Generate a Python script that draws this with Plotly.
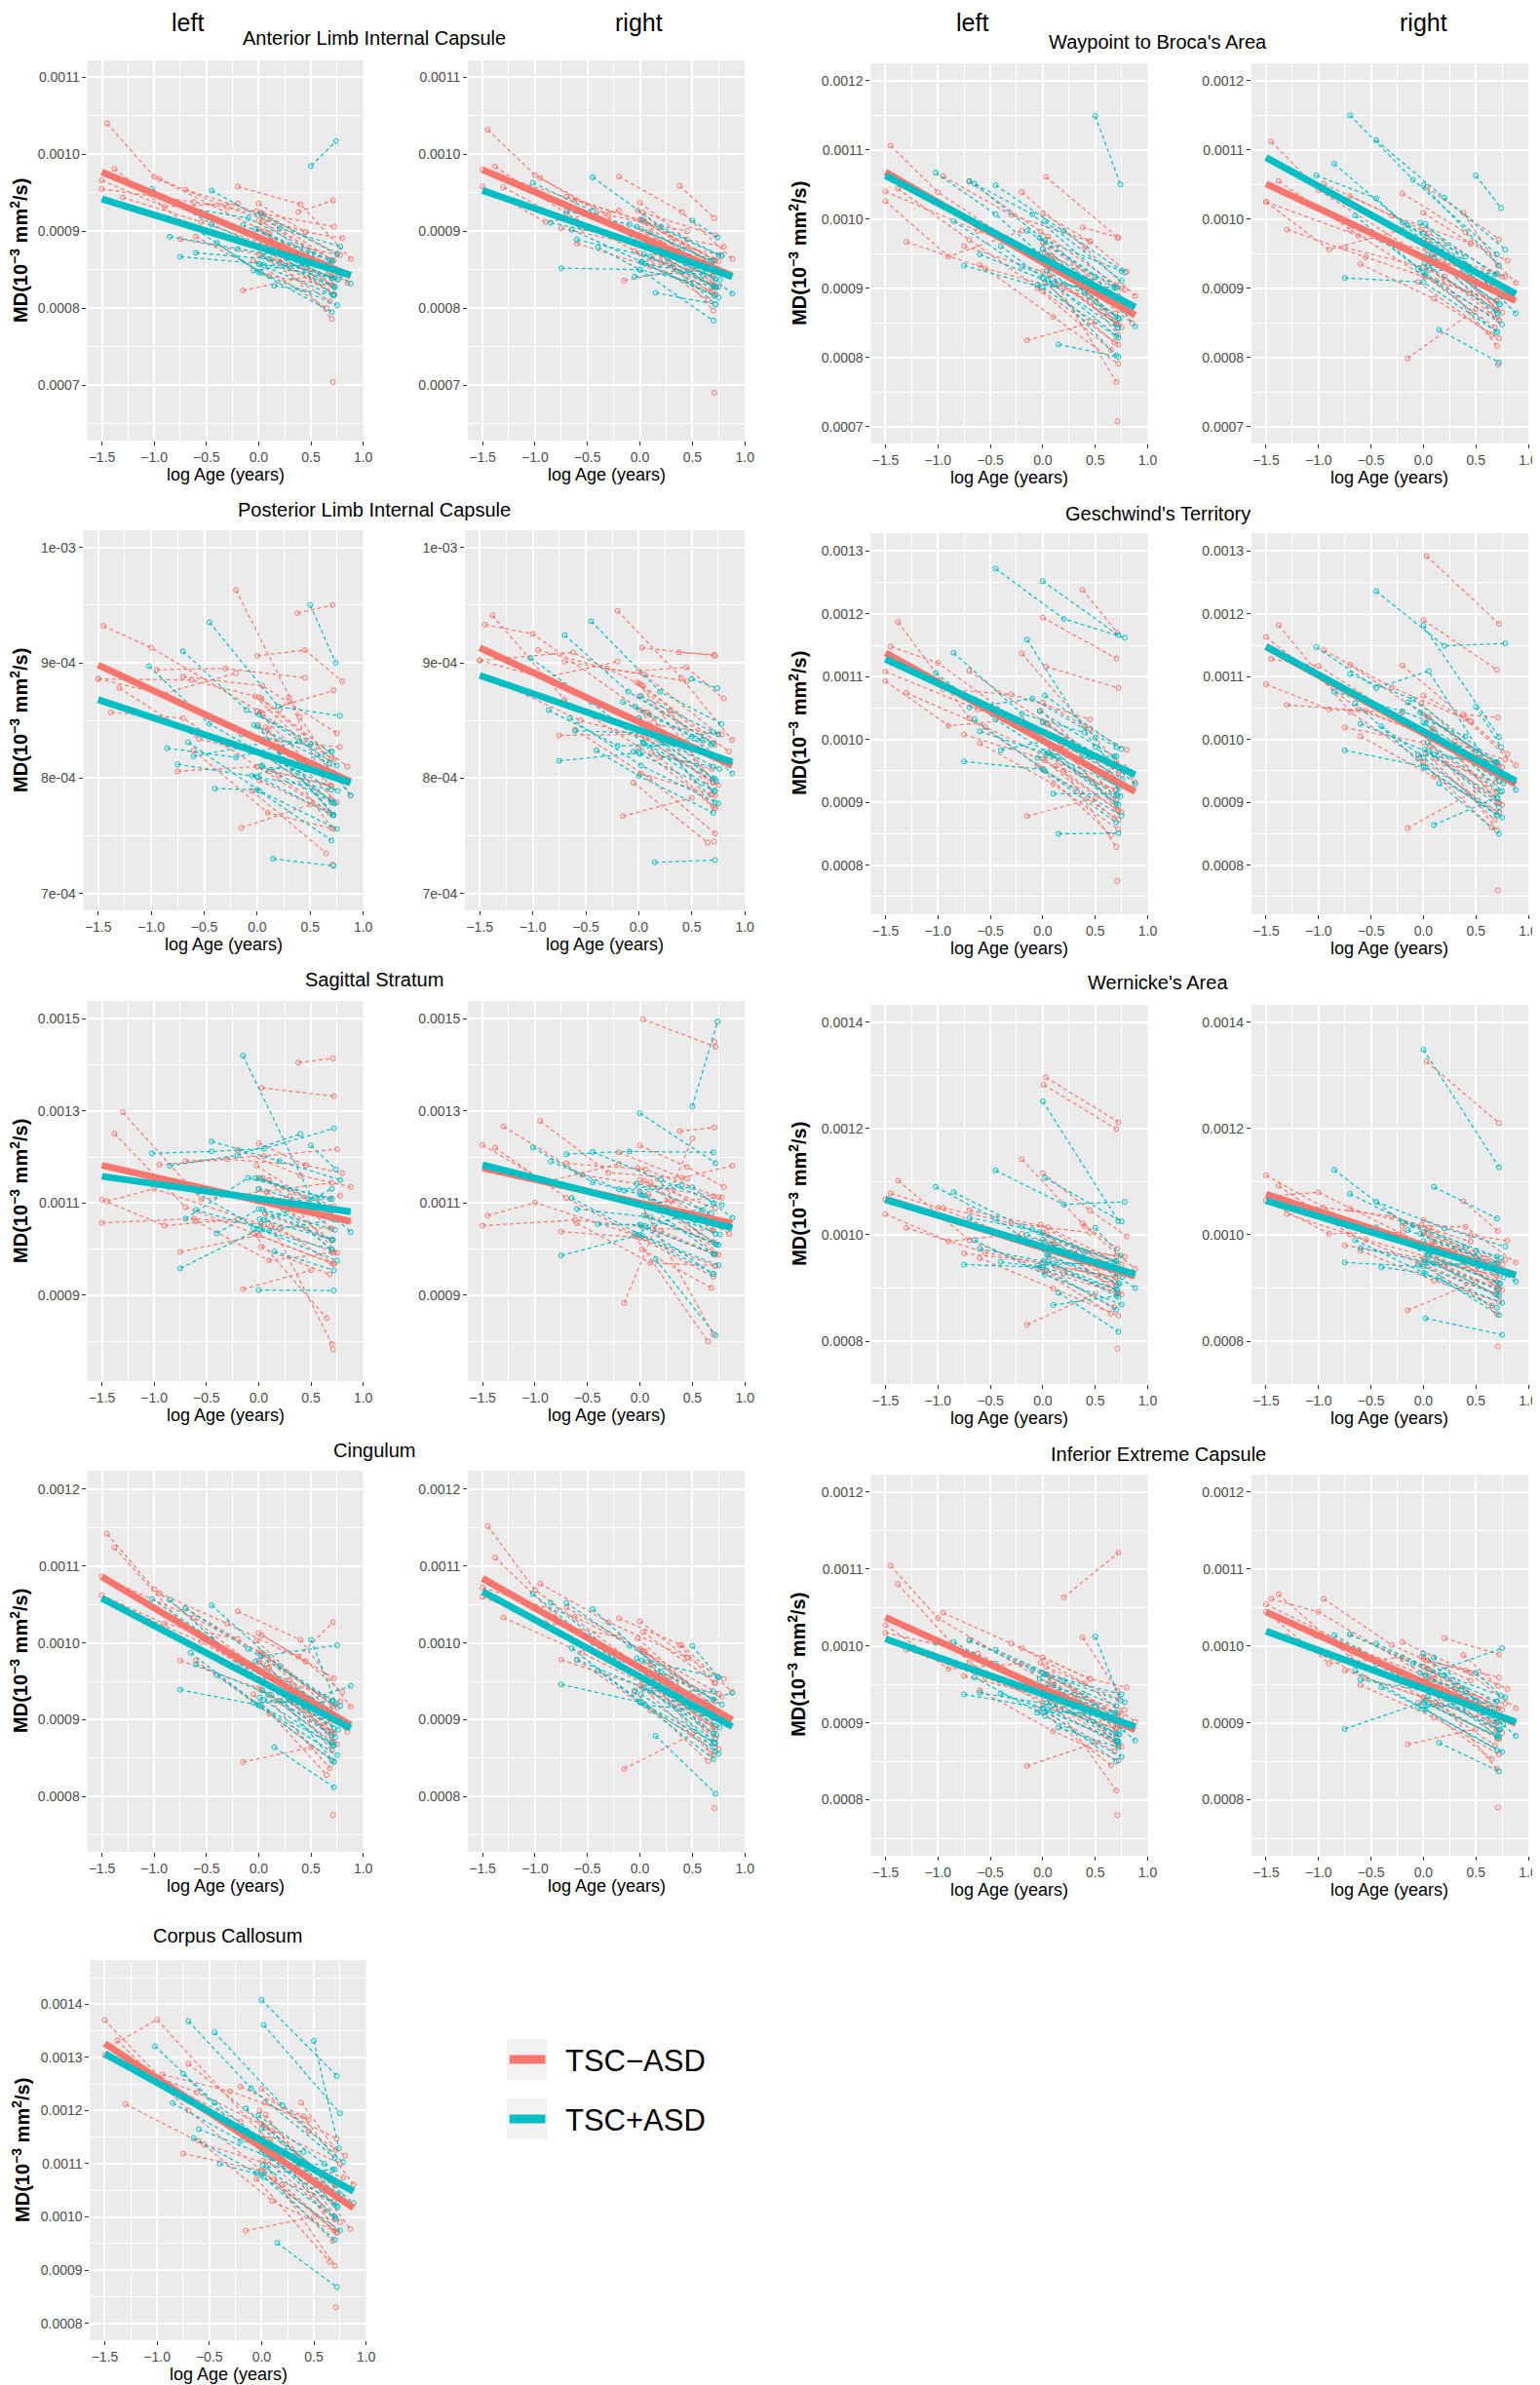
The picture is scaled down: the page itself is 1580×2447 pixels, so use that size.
import plotly.graph_objects as go

W, H = 1580, 2447
RED, CYAN = "#F8766D", "#00BFC4"
FONT = "Liberation Sans, Arial, sans-serif"

# log age (years) of every scan, one list per subject; the same subjects in every tract
ages_neg = [[-1.50, -0.62, 0.02, 0.70], [-1.45, -1.00, 0.05], [-1.38, -0.70, 0.00, 0.72],
            [-1.30, -0.55, 0.70], [-1.50, -0.90, -0.20], [-0.95, -0.30, 0.45],
            [-0.75, 0.00, 0.70], [-0.70, 0.05, 0.75], [-0.60, 0.10, 0.72],
            [-0.20, 0.40, 0.88], [-0.15, 0.50], [0.00, 0.70], [0.02, 0.68], [0.03, 0.72],
            [0.05, 0.30, 0.70], [0.10, 0.75], [-0.05, 0.65], [0.00, 0.45, 0.80],
            [0.20, 0.72], [0.01, 0.70], [0.04, 0.85], [0.38, 0.71], [0.71],
            [0.00, 0.72], [0.06, 0.70], [-0.02, 0.74], [0.12, 0.69], [0.03, 0.78], [0.08, 0.72]]
ages_pos = [[-1.02, -0.45, 0.05, 0.72], [-0.85, -0.20, 0.40], [-0.75, 0.00, 0.70],
            [-0.70, -0.10, 0.70], [-0.65, 0.02, 0.75], [-0.60, 0.10, 0.72],
            [-0.45, 0.20, 0.78], [-0.40, 0.00, 0.70], [-0.15, 0.50, 0.88],
            [-0.05, 0.70], [0.00, 0.72], [0.02, 0.75], [0.05, 0.60], [0.10, 0.70],
            [0.15, 0.72], [0.50, 0.74],
            [0.00, 0.70], [0.04, 0.73], [-0.03, 0.68], [0.08, 0.76], [0.01, 0.71]]

# MD in 10^-6 mm^2/s, one list per subject (same order as the age lists)
alic_left_neg = [[955, 938, 924, 863], [1040, 971, 900], [981, 910, 881, 818], [944, 912, 852], [966, 932, 936], [968, 931, 899], [890, 870, 841], [954, 922, 871], [893, 842, 829], [958, 935, 864], [823, 842], [903, 830], [869, 809], [923, 906], [878, 875, 830], [897, 838], [862, 800], [936, 899, 891], [859, 818], [891, 786], [912, 833], [925, 940], [704],
                 [914, 862], [878, 830], [926, 850], [863, 842], [890, 869], [898, 818]]
alic_left_pos = [[955, 909, 878, 828], [893, 877, 863], [867, 858, 839], [931, 917, 861], [907, 846, 804], [872, 864, 839], [953, 904, 880], [885, 847, 795], [908, 870, 832], [849, 861], [891, 817], [923, 870], [856, 855], [875, 839], [829, 817], [985, 1017],
                 [891, 850], [867, 827], [903, 862], [876, 837], [857, 817]]
alic_right_neg = [[980, 940, 914, 863], [1032, 973, 890], [984, 923, 871, 829], [957, 903, 863], [958, 912, 927], [969, 921, 900], [904, 882, 830], [945, 912, 861], [884, 854, 818], [971, 925, 864], [836, 853], [915, 841], [881, 821], [924, 895], [890, 887, 830], [898, 828], [874, 811], [937, 889, 880], [859, 818], [903, 797], [913, 844], [959, 917], [690],
                  [915, 862], [879, 830], [927, 850], [864, 842], [891, 869], [899, 818]]
alic_right_pos = [[963, 926, 880, 838], [911, 892, 875], [852, 850, 828], [926, 909, 861], [902, 860, 814], [889, 867, 827], [970, 906, 868], [879, 850, 784], [901, 859, 819], [841, 850], [894, 805], [915, 869], [858, 843], [878, 828], [820, 805], [914, 892],
                  [894, 849], [870, 827], [906, 861], [878, 837], [860, 816]]

plic_left_neg = [[886, 885, 870, 817], [932, 913, 856], [857, 852, 810, 768], [878, 834, 805], [886, 873, 891], [894, 895, 887], [806, 810, 793], [888, 880, 839], [824, 770, 756], [963, 853, 785], [757, 777], [858, 793], [798, 770], [857, 876], [832, 870, 781], [842, 779], [789, 735], [906, 911, 884], [802, 768], [846, 757], [869, 810], [943, 950], [725],
                 [858, 816], [820, 781], [871, 803], [806, 794], [833, 827], [844, 768]]
plic_left_pos = [[897, 847, 821, 779], [826, 818, 832], [812, 801, 790], [910, 859, 823], [831, 789, 756], [819, 831, 768], [935, 862, 854], [791, 790, 746], [838, 829, 785], [802, 823], [845, 768], [855, 811], [810, 804], [831, 779], [730, 724], [950, 900],
                 [834, 801], [811, 778], [846, 813], [819, 789], [801, 768]]
plic_right_neg = [[902, 909, 881, 830], [933, 925, 857], [941, 868, 827, 774], [882, 850, 819], [902, 887, 901], [911, 895, 884], [837, 838, 797], [901, 890, 838], [842, 800, 752], [945, 887, 833], [767, 783], [882, 797], [804, 786], [913, 906], [846, 858, 786], [855, 794], [796, 744], [893, 896, 869], [818, 774], [859, 775], [880, 823], [909, 907], [745],
                  [871, 829], [835, 796], [883, 818], [822, 808], [848, 838], [857, 785]]
plic_right_pos = [[904, 866, 830, 789], [859, 828, 829], [815, 822, 810], [924, 875, 830], [852, 811, 778], [841, 839, 799], [936, 875, 847], [824, 802, 770], [866, 836, 804], [823, 840], [852, 779], [871, 838], [830, 833], [839, 800], [727, 729], [886, 878],
                  [852, 819], [831, 797], [862, 829], [839, 808], [821, 789]]

ss_left_neg = [[1057, 1066, 1054, 994], [1104, 1131, 1052], [1251, 1091, 1030, 968], [1297, 1108, 1144], [1107, 1051, 1065], [1183, 1195, 1182], [994, 1030, 969], [1191, 1202, 1217], [1061, 975, 993], [1215, 1160, 1135], [913, 954], [1130, 1019], [1004, 945], [1350, 1332], [1102, 1115, 1044], [1150, 992], [1033, 850], [1230, 1182, 1165], [1045, 968], [1104, 794], [1154, 1061], [1405, 1414], [782],
               [1155, 1093], [1077, 1019], [1181, 1068], [1050, 1045], [1103, 1116], [1125, 993]]
ss_left_pos = [[1208, 1212, 1218, 1262], [1181, 1204, 1250], [958, 1043, 999], [1066, 1155, 1108], [1130, 1042, 975], [1085, 1040, 1064], [1234, 1191, 1150], [1034, 1087, 1021], [1420, 1115, 1037], [1045, 1131], [911, 910], [1153, 1085], [1064, 1112], [1106, 999], [995, 954], [1225, 1173],
               [1131, 1086], [1086, 1042], [1154, 1109], [1106, 1063], [1065, 1020]]
ss_right_neg = [[1051, 1063, 1049, 989], [1073, 1101, 1023], [1220, 1111, 1025, 964], [1266, 1161, 1115], [1226, 1146, 1185], [1278, 1166, 1153], [1038, 1025, 940], [1186, 1173, 1113], [1056, 970, 964], [1210, 1155, 1181], [883, 1240], [1125, 1015], [999, 916], [1499, 1439], [1098, 1105, 1040], [1145, 988], [1028, 799], [1225, 1178, 1135], [1040, 989], [1099, 815], [1148, 1033], [1256, 1264], [1450],
                [1150, 1089], [1072, 1015], [1176, 1063], [1045, 1041], [1099, 1112], [1120, 989]]
ss_right_pos = [[1221, 1145, 1116, 1033], [1190, 1130, 1140], [986, 1031, 946], [1206, 1212, 1210], [1111, 1029, 965], [1087, 1069, 1011], [1211, 1151, 1096], [1054, 1053, 946], [1127, 1134, 1068], [1033, 1100], [1295, 1187], [1117, 1009], [1050, 1084], [1091, 990], [978, 813], [1310, 1494],
                [1119, 1055], [1073, 1010], [1142, 1078], [1091, 1032], [1052, 989]]

cing_left_neg = [[1086, 1033, 987, 920], [1142, 1070, 960], [1124, 1021, 953, 882], [1046, 1001, 908], [1062, 1025, 1005], [1065, 1025, 976], [977, 941, 872], [1045, 984, 916], [977, 908, 846], [1041, 1004, 917], [845, 864], [977, 884], [939, 837], [1010, 954], [960, 952, 884], [968, 868], [933, 828], [1013, 976, 936], [924, 882], [975, 860], [985, 884], [982, 1027], [776],
                 [989, 918], [948, 884], [1003, 905], [932, 897], [962, 924], [972, 870]]
cing_left_pos = [[1057, 1005, 948, 889], [1056, 977, 934], [939, 919, 869], [1045, 992, 924], [987, 917, 854], [972, 933, 867], [1049, 970, 918], [958, 919, 847], [973, 927, 944], [922, 924], [963, 845], [983, 997], [926, 920], [944, 880], [864, 812], [1004, 921],
                 [963, 902], [938, 877], [976, 913], [946, 887], [929, 866]]
cing_right_neg = [[1072, 1034, 990, 926], [1152, 1069, 964], [1111, 1022, 956, 876], [1033, 987, 902], [1060, 1026, 1008], [1077, 1027, 981], [978, 944, 890], [1046, 988, 934], [978, 912, 864], [1032, 997, 936], [836, 881], [992, 890], [943, 856], [1014, 948], [964, 957, 890], [972, 862], [936, 846], [1028, 981, 953], [941, 888], [967, 854], [989, 902], [997, 948], [785],
                  [992, 924], [952, 890], [1006, 911], [935, 902], [966, 930], [976, 876]]
cing_right_pos = [[1064, 1000, 952, 892], [1052, 982, 937], [946, 923, 871], [1052, 996, 926], [993, 922, 856], [978, 938, 870], [1044, 963, 920], [964, 923, 849], [978, 919, 935], [938, 937], [967, 859], [977, 955], [919, 912], [949, 882], [879, 804], [996, 956],
                  [967, 904], [942, 880], [980, 916], [950, 890], [933, 869]]

cc_neg = [[1304, 1234, 1172, 1059], [1320, 1371, 1146], [1332, 1200, 1087, 971], [1212, 1136, 1062], [1370, 1248, 1179], [1268, 1236, 1183], [1119, 1087, 974], [1288, 1168, 1100], [1143, 1030, 971], [1245, 1189, 1061], [974, 1000], [1153, 996], [1084, 955], [1215, 1147], [1124, 1114, 974], [1162, 990], [1072, 916], [1241, 1161, 1115], [1061, 971], [1106, 908], [1192, 977], [1215, 1126], [830],
          [1175, 1059], [1105, 996], [1200, 1035], [1071, 1030], [1127, 1074], [1146, 971]]
cc_pos = [[1321, 1215, 1138, 1021], [1214, 1143, 1122], [1269, 1122, 1023], [1368, 1242, 1111], [1148, 1075, 975], [1165, 1111, 1043], [1347, 1210, 1103], [1100, 1078, 957], [1204, 1089, 1026], [1083, 1089], [1408, 1265], [1361, 1195], [1094, 1100], [1111, 1001], [951, 868], [1331, 1129],
          [1166, 1067], [1117, 1018], [1191, 1089], [1134, 1041], [1097, 997]]

broca_left_neg = [[1040, 983, 950, 905], [1106, 1039, 933], [1044, 970, 896, 819], [967, 929, 877], [1026, 946, 983], [1062, 1006, 968], [961, 924, 849], [1054, 975, 900], [934, 859, 791], [1039, 959, 889], [825, 852], [966, 849], [908, 822], [1061, 973], [933, 925, 849], [943, 844], [900, 811], [1008, 968, 924], [906, 847], [937, 765], [948, 850], [988, 974], [708],
                  [966, 889], [919, 849], [982, 873], [905, 864], [935, 898], [947, 833]]
broca_left_pos = [[1067, 1007, 939, 857], [997, 931, 897], [933, 901, 831], [1055, 1007, 901], [1051, 969, 925], [949, 907, 829], [1049, 983, 923], [961, 915, 803], [983, 917, 845], [905, 901], [957, 843], [997, 911], [911, 895], [935, 859], [819, 801], [1149, 1050],
                  [957, 887], [926, 856], [973, 901], [935, 869], [914, 843]]
broca_right_neg = [[1025, 976, 956, 921], [1112, 1042, 941], [1055, 985, 918, 854], [985, 945, 882], [1025, 956, 985], [1051, 1005, 965], [959, 931, 869], [1033, 980, 917], [935, 885, 828], [1037, 981, 908], [799, 870], [970, 869], [917, 844], [1046, 971], [941, 936, 869], [950, 865], [909, 833], [1009, 965, 940], [917, 854], [943, 817], [968, 884], [1009, 933], [790],
                   [970, 906], [927, 869], [985, 892], [911, 882], [942, 917], [950, 854]]
broca_right_pos = [[1063, 1030, 961, 891], [1080, 995, 946], [915, 909, 837], [1150, 1057, 949], [1005, 921, 848], [986, 943, 877], [1114, 1031, 956], [970, 923, 837], [991, 923, 864], [928, 921], [1049, 933], [993, 889], [933, 915], [943, 865], [840, 793], [1063, 1016],
                   [979, 907], [948, 877], [995, 920], [957, 888], [936, 863]]

gesch_left_neg = [[1108, 1048, 1012, 964], [1148, 1122, 994], [1187, 1034, 954, 872], [1074, 1020, 919], [1093, 1022, 1032], [1080, 1072, 1032], [1008, 969, 889], [1109, 1024, 944], [994, 929, 857], [1137, 1021, 932], [878, 907], [1194, 1129], [967, 875], [1116, 1082], [994, 986, 904], [1004, 884], [958, 848], [1059, 1017, 984], [950, 887], [998, 829], [1025, 920], [1238, 1170], [775],
                  [1029, 947], [979, 904], [1046, 930], [958, 920], [996, 956], [1007, 887]]
gesch_left_pos = [[1106, 1032, 978, 926], [1138, 1041, 1011], [965, 952, 868], [1051, 1065, 988], [1032, 950, 879], [1013, 974, 896], [1272, 1192, 1162], [983, 997, 898], [1159, 988, 929], [971, 973], [1252, 1166], [1070, 985], [978, 966], [914, 913], [850, 851], [1003, 910],
                  [1027, 958], [994, 923], [1045, 973], [1004, 937], [981, 911]]
gesch_right_neg = [[1163, 1048, 1008, 961], [1128, 1117, 1005], [1182, 1044, 965, 884], [1055, 1046, 961], [1088, 1048, 1043], [1142, 1083, 1029], [1019, 995, 901], [1119, 1035, 956], [1005, 941, 884], [1118, 1033, 959], [859, 919], [1190, 1111], [978, 872], [1292, 1184], [1005, 997, 916], [1016, 896], [970, 860], [1070, 1029, 977], [962, 899], [1009, 856], [1036, 932], [1040, 1035], [760],
                   [1040, 959], [990, 916], [1057, 942], [969, 932], [1007, 968], [1018, 899]]
gesch_right_pos = [[1147, 1082, 1109, 934], [1076, 1045, 1005], [983, 957, 880], [1104, 1064, 964], [1058, 955, 876], [1025, 976, 892], [1236, 1149, 1153], [1021, 971, 880], [1059, 982, 920], [976, 964], [1181, 1004], [1025, 918], [981, 960], [864, 908], [930, 850], [1052, 988],
                   [1027, 950], [995, 917], [1043, 964], [1006, 930], [984, 906]]

wern_left_neg = [[1067, 1013, 988, 960], [1078, 1051, 972], [1102, 990, 934, 890], [1013, 967, 919], [1039, 988, 1002], [1051, 1022, 1004], [965, 948, 891], [1046, 1014, 944], [956, 899, 848], [1142, 1016, 936], [831, 889], [1004, 905], [932, 864], [1296, 1212], [972, 971, 905], [983, 888], [937, 852], [1116, 1046, 997], [929, 890], [1282, 1199], [1001, 924], [1021, 974], [786],
                 [1004, 946], [958, 905], [1019, 931], [940, 921], [974, 959], [984, 890]]
wern_left_pos = [[1090, 1030, 962, 909], [1080, 1016, 967], [944, 939, 898], [1032, 1010, 950], [990, 925, 869], [974, 946, 883], [1121, 1057, 1062], [949, 939, 859], [1000, 948, 900], [942, 950], [1251, 1026], [1107, 1025], [949, 943], [868, 885], [891, 818], [1013, 961],
                 [991, 937], [962, 908], [1005, 949], [972, 921], [951, 896]]
wern_right_neg = [[1112, 1015, 979, 947], [1073, 1080, 977], [1092, 1001, 944, 886], [1039, 991, 922], [1064, 1002, 1005], [1051, 1035, 987], [980, 956, 899], [1049, 1013, 944], [970, 914, 874], [1017, 1015, 948], [858, 912], [1004, 911], [955, 889], [1326, 1210], [977, 973, 899], [986, 896], [947, 867], [1028, 999, 989], [943, 898], [979, 851], [1002, 926], [1063, 1007], [790],
                  [1004, 946], [965, 911], [1018, 933], [948, 924], [979, 953], [987, 898]]
wern_right_pos = [[1048, 1014, 961, 909], [1122, 1024, 976], [948, 940, 887], [1077, 1018, 959], [990, 927, 872], [975, 946, 885], [1062, 1012, 978], [939, 928, 863], [1009, 958, 912], [943, 947], [1348, 1127], [843, 812], [949, 941], [1090, 1031], [919, 849], [970, 956],
                  [988, 935], [962, 908], [1002, 946], [971, 920], [951, 897]]

iec_left_neg = [[1017, 990, 944, 912], [1104, 1036, 952], [1080, 978, 925, 871], [995, 959, 892], [1027, 970, 977], [1043, 1003, 957], [961, 935, 872], [1008, 962, 909], [942, 889, 851], [997, 951, 901], [844, 874], [965, 892], [914, 863], [973, 931], [942, 937, 882], [949, 869], [918, 845], [985, 957, 946], [1063, 1121], [945, 812], [963, 893], [1011, 942], [780],
                [965, 911], [931, 882], [978, 900], [918, 893], [944, 917], [950, 871]]
iec_left_pos = [[1004, 977, 935, 874], [1005, 956, 936], [937, 919, 877], [1007, 969, 922], [959, 909, 856], [939, 923, 885], [995, 955, 927], [938, 919, 850], [953, 922, 877], [913, 913], [964, 876], [963, 937], [917, 908], [932, 886], [894, 868], [1012, 929],
                [946, 904], [926, 885], [957, 913], [935, 892], [918, 876]]
iec_right_neg = [[1054, 995, 961, 919], [1061, 1044, 960], [1067, 985, 933, 879], [1012, 958, 900], [1044, 977, 985], [1061, 1001, 955], [968, 933, 880], [1015, 970, 917], [949, 907, 859], [1005, 968, 919], [872, 892], [973, 900], [931, 871], [981, 959], [950, 944, 890], [957, 887], [926, 853], [983, 965, 944], [1010, 989], [953, 840], [970, 901], [988, 948], [790],
                 [973, 919], [939, 890], [986, 908], [926, 901], [952, 925], [958, 879]]
iec_right_pos = [[1013, 976, 942, 891], [1014, 964, 943], [892, 927, 883], [1015, 977, 928], [968, 917, 862], [956, 940, 882], [1003, 962, 933], [946, 918, 865], [961, 929, 883], [920, 928], [990, 891], [962, 997], [924, 915], [985, 901], [874, 837], [965, 935],
                 [954, 910], [934, 891], [965, 919], [943, 898], [926, 882]]

# group regression lines: MD (10^-6 mm^2/s) at the two ends of fit_age
fit_age = [-1.5, 0.88]
alic_left_fit_neg, alic_left_fit_pos = [977, 842], [942, 843]
alic_right_fit_neg, alic_right_fit_pos = [980, 842], [953, 841]
plic_left_fit_neg, plic_left_fit_pos = [898, 797], [868, 796]
plic_right_fit_neg, plic_right_fit_pos = [913, 811], [889, 814]
ss_left_fit_neg, ss_left_fit_pos = [1182, 1060], [1158, 1081]
ss_right_fit_neg, ss_right_fit_pos = [1176, 1056], [1183, 1046]
cing_left_fit_neg, cing_left_fit_pos = [1086, 893], [1058, 889]
cing_right_fit_neg, cing_right_fit_pos = [1084, 900], [1067, 891]
cc_fit_neg, cc_fit_pos = [1326, 1017], [1307, 1048]
broca_left_fit_neg, broca_left_fit_pos = [1068, 861], [1063, 873]
broca_right_fit_neg, broca_right_fit_pos = [1051, 882], [1089, 892]
gesch_left_fit_neg, gesch_left_fit_pos = [1138, 917], [1128, 944]
gesch_right_fit_neg, gesch_right_fit_pos = [1148, 929], [1148, 934]
wern_left_fit_neg, wern_left_fit_pos = [1067, 922], [1066, 926]
wern_right_fit_neg, wern_right_fit_pos = [1076, 924], [1064, 924]
iec_left_fit_neg, iec_left_fit_pos = [1037, 891], [1009, 895]
iec_right_fit_neg, iec_right_fit_pos = [1044, 899], [1019, 901]

tracts = ["Anterior Limb Internal Capsule", "Posterior Limb Internal Capsule", "Sagittal Stratum",
          "Cingulum", "Corpus Callosum", "Waypoint to Broca's Area", "Geschwind's Territory",
          "Wernicke's Area", "Inferior Extreme Capsule"]
groups = ["TSC\u2212ASD", "TSC+ASD"]
x_ticks = [-1.5, -1.0, -0.5, 0.0, 0.5, 1.0]
x_tick_text = ["\u22121.5", "\u22121.0", "\u22120.5", "0.0", "0.5", "1.0"]
y_ticks_alic = [0.0007, 0.0008, 0.0009, 0.0010, 0.0011]
y_ticks_plic = [0.0007, 0.0008, 0.0009, 0.0010]
y_text_plic = ["7e-04", "8e-04", "9e-04", "1e-03"]
y_ticks_ss = [0.0009, 0.0011, 0.0013, 0.0015]
y_ticks_cing = [0.0008, 0.0009, 0.0010, 0.0011, 0.0012]
y_ticks_cc = [0.0008, 0.0009, 0.0010, 0.0011, 0.0012, 0.0013, 0.0014]
y_ticks_broca = [0.0007, 0.0008, 0.0009, 0.0010, 0.0011, 0.0012]
y_ticks_gesch = [0.0008, 0.0009, 0.0010, 0.0011, 0.0012, 0.0013]
y_ticks_wern = [0.0008, 0.0010, 0.0012, 0.0014]
y_ticks_iec = [0.0008, 0.0009, 0.0010, 0.0011, 0.0012]


def ymeta(ticks, lo, hi, text=None):
    step = ticks[1] - ticks[0]
    minor = [t + step / 2 for t in [ticks[0] - step] + ticks]
    return dict(range=[lo, hi], tickvals=ticks,
                ticktext=text or [f"{t:.4f}" for t in ticks],
                minor=[m for m in minor if lo < m < hi])


Y = {
    "alic": ymeta(y_ticks_alic, 0.000628, 0.001122),
    "plic": ymeta(y_ticks_plic, 0.0006854, 0.0010149, y_text_plic),
    "ss": ymeta(y_ticks_ss, 0.0007134, 0.0015387),
    "cing": ymeta(y_ticks_cing, 0.000728, 0.0012241),
    "cc": ymeta(y_ticks_cc, 0.0007682, 0.0014831),
    "broca": ymeta(y_ticks_broca, 0.000676, 0.001225),
    "gesch": ymeta(y_ticks_gesch, 0.000722, 0.0013284),
    "wern": ymeta(y_ticks_wern, 0.0007194, 0.0014324),
    "iec": ymeta(y_ticks_iec, 0.0007273, 0.0012224),
}

# (y meta key, neg data, pos data, neg fit, pos fit, pixel box x0, x1, y0, y1)
panels = [
    ("alic", alic_left_neg, alic_left_pos, alic_left_fit_neg, alic_left_fit_pos, (82, 367, 54, 444)),
    ("alic", alic_right_neg, alic_right_pos, alic_right_fit_neg, alic_right_fit_pos, (475, 761, 54, 444)),
    ("plic", plic_left_neg, plic_left_pos, plic_left_fit_neg, plic_left_fit_pos, (78, 367, 536, 926)),
    ("plic", plic_right_neg, plic_right_pos, plic_right_fit_neg, plic_right_fit_pos, (472, 761, 536, 926)),
    ("ss", ss_left_neg, ss_left_pos, ss_left_fit_neg, ss_left_fit_pos, (82, 367, 1019, 1409)),
    ("ss", ss_right_neg, ss_right_pos, ss_right_fit_neg, ss_right_fit_pos, (475, 761, 1019, 1409)),
    ("cing", cing_left_neg, cing_left_pos, cing_left_fit_neg, cing_left_fit_pos, (82, 367, 1501, 1892)),
    ("cing", cing_right_neg, cing_right_pos, cing_right_fit_neg, cing_right_fit_pos, (475, 761, 1501, 1892)),
    ("cc", cc_neg, cc_pos, cc_fit_neg, cc_fit_pos, (85, 370, 2003, 2393)),
    ("broca", broca_left_neg, broca_left_pos, broca_left_fit_neg, broca_left_fit_pos, (891, 1177, 57, 447)),
    ("broca", broca_right_neg, broca_right_pos, broca_right_fit_neg, broca_right_fit_pos, (1284, 1570, 57, 447)),
    ("gesch", gesch_left_neg, gesch_left_pos, gesch_left_fit_neg, gesch_left_fit_pos, (891, 1177, 539, 930)),
    ("gesch", gesch_right_neg, gesch_right_pos, gesch_right_fit_neg, gesch_right_fit_pos, (1284, 1570, 539, 930)),
    ("wern", wern_left_neg, wern_left_pos, wern_left_fit_neg, wern_left_fit_pos, (891, 1177, 1023, 1412)),
    ("wern", wern_right_neg, wern_right_pos, wern_right_fit_neg, wern_right_fit_pos, (1284, 1570, 1023, 1412)),
    ("iec", iec_left_neg, iec_left_pos, iec_left_fit_neg, iec_left_fit_pos, (891, 1177, 1505, 1896)),
    ("iec", iec_right_neg, iec_right_pos, iec_right_fit_neg, iec_right_fit_pos, (1284, 1570, 1505, 1896)),
]


def spaghetti(ages, values):
    xs, ys = [], []
    for a, v in zip(ages, values):
        xs += list(a) + [None]
        ys += [m * 1e-6 for m in v] + [None]
    return xs, ys


def px(x):
    return x / W


def py(y):
    return 1 - y / H


fig = go.Figure()
layout = {}
annotations = []
for i, (key, neg, pos, fneg, fpos, box) in enumerate(panels, start=1):
    x0, x1, y0, y1 = box
    xa, ya = f"x{i}", f"y{i}"
    for ages, vals, col in [(ages_neg, neg, RED), (ages_pos, pos, CYAN)]:
        xs, ys = spaghetti(ages, vals)
        fig.add_trace(go.Scatter(x=xs, y=ys, xaxis=xa, yaxis=ya, mode="lines+markers",
                                 showlegend=False, hoverinfo="skip",
                                 line=dict(color=col, width=1.2, dash="4px,3px"),
                                 marker=dict(symbol="circle-open", size=5, color=col,
                                             line=dict(width=1, color=col))))
    for fit, col in [(fneg, RED), (fpos, CYAN)]:
        fig.add_trace(go.Scatter(x=fit_age, y=[v * 1e-6 for v in fit], xaxis=xa, yaxis=ya,
                                 mode="lines", showlegend=False, hoverinfo="skip",
                                 line=dict(color=col, width=7)))
    m = Y[key]
    common = dict(ticks="outside", ticklen=4, tickwidth=1, tickcolor="#333333",
                  tickfont=dict(family=FONT, size=14, color="#4D4D4D"),
                  showgrid=True, gridcolor="white", gridwidth=2, zeroline=False,
                  showline=False, fixedrange=True)
    layout["xaxis" if i == 1 else f"xaxis{i}"] = dict(
        domain=[px(x0), px(x1)], anchor=ya, range=[-1.64, 1.0],
        tickmode="array", tickvals=x_ticks, ticktext=x_tick_text,
        minor=dict(tickvals=[-1.25, -0.75, -0.25, 0.25, 0.75], showgrid=True,
                   gridcolor="white", gridwidth=1, ticks=""), **common)
    layout["yaxis" if i == 1 else f"yaxis{i}"] = dict(
        domain=[py(y1), py(y0)], anchor=xa, range=m["range"],
        tickmode="array", tickvals=m["tickvals"], ticktext=m["ticktext"],
        minor=dict(tickvals=m["minor"], showgrid=True, gridcolor="white",
                   gridwidth=1, ticks=""), **common)
    annotations.append(dict(text="log Age (years)", x=px((x0 + x1) / 2), y=py(y1 + 35),
                            font=dict(size=18)))

# tract titles, column headers, y titles
title_pos = [(378, 31), (378, 515), (378, 997), (378, 1480), (227, 1978),
             (1188, 35), (1188, 519), (1188, 1000), (1188, 1484)]
for t, (x, y) in zip(tracts, title_pos):
    annotations.append(dict(text=t, x=px(x), y=py(y), font=dict(size=20)))
for t, x in zip(["left", "right", "left", "right"], [186, 652, 996, 1462]):
    annotations.append(dict(text=t, x=px(x), y=1, yanchor="top", borderpad=0,
                            font=dict(size=25)))
ytitle = "<b>MD(10<sup>\u22123</sup> mm<sup>2</sup>/s)</b>"
for x, y in [(11, 249), (11, 731), (11, 1214), (11, 1696), (13, 2198),
             (815, 252), (815, 734), (815, 1217), (815, 1700)]:
    annotations.append(dict(text=ytitle, x=px(x), y=py(y), textangle=-90,
                            font=dict(size=20)))

# legend drawn the ggplot way: grey key boxes with a thick coloured bar
shapes = []
for g, col, yc in zip(groups, [RED, CYAN], [2105, 2166]):
    shapes.append(dict(type="rect", xref="paper", yref="paper", x0=px(515), x1=px(557),
                       y0=py(yc + 21), y1=py(yc - 21), fillcolor="#F2F2F2", line_width=0))
    shapes.append(dict(type="line", xref="paper", yref="paper", x0=px(518), x1=px(555),
                       y0=py(yc), y1=py(yc), line=dict(color=col, width=9)))
    annotations.append(dict(text=g, x=px(574), y=py(yc + 1), xanchor="left",
                            font=dict(size=31)))

for a in annotations:
    a.setdefault("xref", "paper")
    a.setdefault("yref", "paper")
    a.setdefault("showarrow", False)
    a.setdefault("xanchor", "center")
    a.setdefault("yanchor", "middle")
    a["font"] = dict(family=FONT, color="black", **a["font"])

fig.update_layout(width=W, height=H, margin=dict(l=0, r=0, t=0, b=0),
                  paper_bgcolor="white", plot_bgcolor="#EBEBEB",
                  annotations=annotations, shapes=shapes, **layout)
fig.write_html("out.html")
